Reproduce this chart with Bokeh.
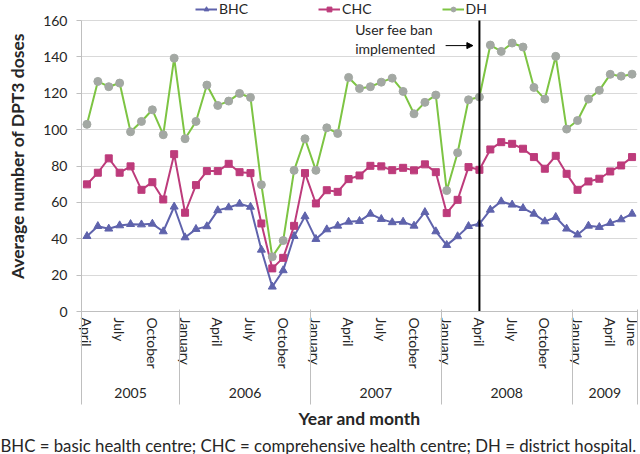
from bokeh.plotting import figure
from bokeh.models import (Range1d, LinearAxis, FixedTicker, Legend, LegendItem,
                          Label, Arrow, NormalHead, Title, ColumnDataSource)
from bokeh.embed import file_html
from bokeh.resources import INLINE

# ---- data: April 2005 .. June 2009 (51 months) ----
bhc = [41.4, 46.9, 45.5, 47.3, 48.0, 47.8, 48.2, 44.0, 57.6,
       40.7, 45.3, 46.8, 55.6, 57.2, 59.2, 57.5, 33.9, 13.6, 22.6, 41.4, 52.3,
       39.8, 45.1, 47.1, 49.3, 49.7, 53.7, 50.8, 49.0, 49.3, 47.1, 54.6, 44.0,
       36.5, 41.3, 46.9, 48.2, 55.9, 60.5, 58.7, 56.8, 53.7, 49.5, 51.9, 45.5,
       42.2, 47.1, 46.4, 48.6, 50.6, 53.7]
chc = [69.9, 76.3, 84.2, 76.3, 79.8, 66.9, 71.1, 61.6, 86.5,
       54.3, 69.5, 77.2, 77.2, 81.2, 76.6, 76.1, 48.4, 23.7, 29.5, 47.1, 76.1,
       59.4, 66.7, 65.8, 72.8, 74.8, 80.1, 79.8, 77.7, 79.0, 77.6, 80.9, 76.6,
       54.1, 61.4, 79.4, 77.9, 89.1, 93.1, 92.2, 89.5, 84.9, 78.5, 85.6, 75.7,
       66.9, 71.5, 73.0, 77.0, 80.3, 84.9]
dh = [102.9, 126.5, 123.6, 125.6, 98.8, 104.5, 110.9, 97.2, 139.3,
      95.0, 104.5, 124.5, 113.3, 115.7, 119.9, 117.7, 69.7, 30.1, 39.0, 77.6, 95.0,
      77.6, 101.0, 97.9, 128.7, 122.6, 123.6, 126.1, 128.3, 121.0, 108.7, 115.0, 119.0,
      66.5, 87.3, 116.4, 117.9, 146.5, 143.0, 147.6, 145.4, 123.2, 116.8, 140.3, 100.3,
      105.0, 116.8, 121.6, 130.4, 129.4, 130.5]
month_idx = list(range(len(bhc)))

month_tick_idx = [0, 3, 6, 9, 12, 15, 18, 21, 24, 27, 30, 33, 36, 39, 42, 45, 48, 50]
month_tick_labels = ["April", "July", "October", "January", "April", "July", "October",
                     "January", "April", "July", "October", "January", "April", "July",
                     "October", "January", "April", "June"]
year_labels = ["2005", "2006", "2007", "2008", "2009"]
year_bounds = [-0.5, 8.5, 20.5, 32.5, 44.5, 50.5]
y_ticks = [0, 20, 40, 60, 80, 100, 120, 140, 160]
ban_idx = 36

FONT = "Lato"
GREY_TXT = "#262626"
SEP = "#BFBFBF"

src = ColumnDataSource(dict(x=month_idx, bhc=bhc, chc=chc, dh=dh))

p = figure(frame_width=556, frame_height=311, output_backend="svg", toolbar_location=None,
           x_range=Range1d(-0.5, 50.5), y_range=Range1d(0, 171),
           x_axis_type=None, min_border_left=81, min_border_right=3,
           min_border_top=0, min_border_bottom=0)
p.outline_line_color = None
p.xgrid.visible = False
p.ygrid.grid_line_color = "#D9D9D9"
p.ygrid.ticker = FixedTicker(ticks=y_ticks)

# y axis
ya = p.yaxis[0]
ya.ticker = FixedTicker(ticks=y_ticks)
ya.bounds = (y_ticks[0], y_ticks[-1])
ya.axis_line_color = SEP
ya.major_tick_line_color = SEP
ya.major_tick_out = 5
ya.major_tick_in = 0
ya.minor_tick_line_color = None
ya.major_label_text_font = FONT
ya.major_label_text_font_size = "14px"
ya.major_label_text_color = GREY_TXT
ya.major_label_standoff = 9
ya.axis_label = "Average number of DPT3 doses"
ya.axis_label_text_font = FONT
ya.axis_label_text_font_size = "17.5px"
ya.axis_label_text_font_style = "bold"
ya.axis_label_text_color = GREY_TXT
ya.axis_label_standoff = 12

# series
C_BHC, C_CHC, C_DH, C_DHM = "#5F63AC", "#BD3B7B", "#7DC443", "#A3A8A3"
l1 = p.line("x", "bhc", source=src, line_color=C_BHC, line_width=2)
m1 = p.scatter("x", "bhc", source=src, marker="triangle", size=8,
               fill_color=C_BHC, line_color=C_BHC)
l2 = p.line("x", "chc", source=src, line_color=C_CHC, line_width=2)
m2 = p.scatter("x", "chc", source=src, marker="square", size=7,
               fill_color=C_CHC, line_color=C_CHC)
l3 = p.line("x", "dh", source=src, line_color=C_DH, line_width=2)
m3 = p.scatter("x", "dh", source=src, marker="circle", size=8,
               fill_color=C_DHM, line_color=C_DHM)

# user fee ban line (from 0 to the top tick) + annotation
p.segment(x0=[ban_idx], y0=[y_ticks[0]], x1=[ban_idx], y1=[y_ticks[-1]],
          line_color="black", line_width=2)
p.add_layout(Label(x=ban_idx - 11.4, y=155, text="User fee ban", text_font=FONT,
                   text_font_size="14px", text_color=GREY_TXT, text_baseline="middle"))
p.add_layout(Label(x=ban_idx - 11.4, y=144.6, text="implemented", text_font=FONT,
                   text_font_size="14px", text_color=GREY_TXT, text_baseline="middle"))
p.add_layout(Arrow(end=NormalHead(size=6, fill_color="black", line_color="black"),
                   x_start=ban_idx - 3.1, x_end=ban_idx - 0.6, y_start=146.2, y_end=146.2,
                   line_color="black", line_width=1))

# month axis (labels only)
ma = LinearAxis(ticker=FixedTicker(ticks=month_tick_idx))
ma.major_label_overrides = {i: s for i, s in zip(month_tick_idx, month_tick_labels)}
ma.major_label_orientation = "vertical"
ma.major_tick_line_color = None
ma.minor_tick_line_color = None
ma.major_tick_out = 0
ma.major_tick_in = 0
ma.minor_tick_out = 0
ma.minor_tick_in = 0
ma.axis_line_color = SEP
ma.major_label_text_font = FONT
ma.major_label_text_font_size = "14px"
ma.major_label_text_color = GREY_TXT
ma.major_label_standoff = 6
p.add_layout(ma, "below")

# year axis (labels only)
year_centers = [(a + b) / 2 for a, b in zip(year_bounds[:-1], year_bounds[1:])]
ta = LinearAxis(ticker=FixedTicker(ticks=year_centers))
ta.major_label_overrides = {c: s for c, s in zip(year_centers, year_labels)}
ta.axis_line_color = None
ta.major_tick_line_color = None
ta.minor_tick_line_color = None
ta.major_tick_out = 0
ta.major_tick_in = 0
ta.minor_tick_out = 0
ta.minor_tick_in = 0
ta.major_label_text_font = FONT
ta.major_label_text_font_size = "14px"
ta.major_label_text_color = GREY_TXT
ta.major_label_standoff = 16
p.add_layout(ta, "below")

# separator axis: year boundaries drawn as inward ticks, carries the axis title
sa = LinearAxis(ticker=FixedTicker(ticks=[], minor_ticks=year_bounds))
sa.axis_line_color = None
sa.major_tick_line_color = None
sa.minor_tick_line_color = SEP
sa.minor_tick_in = 91
sa.minor_tick_out = 4
sa.major_tick_out = 0
sa.major_tick_in = 0
sa.axis_label = "Year and month"
sa.axis_label_text_font = FONT
sa.axis_label_text_font_size = "17.5px"
sa.axis_label_text_font_style = "bold"
sa.axis_label_text_color = GREY_TXT
sa.axis_label_standoff = 3
p.add_layout(sa, "below")

# footnote
p.add_layout(Title(text="BHC = basic health centre; CHC = comprehensive health centre; DH = district hospital.",
                   align="left", offset=-81, standoff=2, text_font=FONT, text_font_size="16.8px",
                   text_font_style="normal", text_color=GREY_TXT), "below")

# legend (inside frame, above the 160 gridline)
legend = Legend(items=[LegendItem(label="BHC", renderers=[l1, m1]),
                       LegendItem(label="CHC", renderers=[l2, m2]),
                       LegendItem(label="DH", renderers=[l3, m3])],
                orientation="horizontal", location=(114, 294), glyph_width=22,
                glyph_height=12, label_standoff=2, spacing=70, padding=0, margin=0,
                border_line_color=None, background_fill_alpha=0,
                label_text_font=FONT, label_text_font_size="14px",
                label_text_color=GREY_TXT, label_height=12)
p.add_layout(legend, "center")

open("out.html", "w").write(file_html(p, INLINE))
